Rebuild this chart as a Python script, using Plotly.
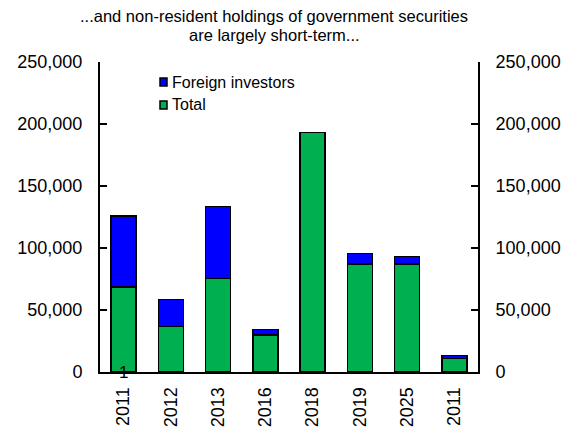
import plotly.graph_objects as go

# Category labels along the x axis (the last year label repeats, so positions are numeric)
years = ["2011", "2012", "2013", "2016", "2018", "2019", "2025", "2011"]
positions = list(range(len(years)))

# Stacked series
total = [68500, 36800, 75500, 29800, 193000, 87000, 87300, 10700]
foreign = [57500, 21700, 57800, 4600, 0, 8700, 5700, 2700]

y_ticks = [0, 50000, 100000, 150000, 200000, 250000]
y_tick_text = ["0", "50,000", "100,000", "150,000", "200,000", "250,000"]

title_lines = ["...and non-resident holdings of government securities", "are largely short-term..."]

GREEN = "#00B050"
BLUE = "#0000FF"
FONT = "Liberation Sans, Arial, sans-serif"

# Plot-area geometry in pixels
L, R, T, B = 100, 478, 62, 372
W, H = 572, 430

fig = go.Figure()
fig.add_trace(go.Bar(x=positions, y=total, name="Total", marker=dict(color=GREEN, line=dict(color="#000", width=1.5))))
fig.add_trace(go.Bar(x=positions, y=foreign, name="Foreign investors", marker=dict(color=BLUE, line=dict(color="#000", width=1.5))))

axis_common = dict(
    range=[0, 250000], tickvals=y_ticks, ticktext=y_tick_text,
    showline=True, linecolor="#000", linewidth=2,
    ticks="inside", ticklen=7, tickwidth=2, tickcolor="#000",
    ticklabelstandoff=12, automargin=False,
    showgrid=False, zeroline=False,
    tickfont=dict(family=FONT, size=18, color="#000"),
)

fig.update_layout(
    width=W, height=H,
    margin=dict(l=L, r=W - R, t=T, b=H - B),
    paper_bgcolor="white", plot_bgcolor="white",
    barmode="stack", bargap=0.47,
    showlegend=False,
    font=dict(family=FONT, color="#000"),
    xaxis=dict(
        range=[-0.5, len(years) - 0.5], tickvals=positions, ticktext=years,
        tickangle=-90, showline=True, linecolor="#000", linewidth=2,
        ticks="", showgrid=False, zeroline=False, ticklabelstandoff=6,
        automargin=False,
        tickfont=dict(family=FONT, size=18, color="#000"),
    ),
    yaxis=dict(side="left", **axis_common),
    yaxis2=dict(side="right", overlaying="y", matches="y", anchor="x", **axis_common),
)

# Invisible trace so the right-hand axis is drawn
fig.add_trace(go.Scatter(x=[positions[0]], y=[0], yaxis="y2", mode="markers",
                         marker=dict(opacity=0), showlegend=False, hoverinfo="skip"))

# Two-line chart title
for i, line in enumerate(title_lines):
    fig.add_annotation(xref="paper", yref="paper", x=(274 - L) / (R - L), y=(B - (16 + 19 * i)) / (B - T),
                       text=line, showarrow=False, xanchor="center", yanchor="middle",
                       font=dict(family=FONT, size=16.5, color="#000"))

# Legend drawn as small boxes with labels
legend_items = [("Foreign investors", BLUE, 82), ("Total", GREEN, 105)]
for label, color, ypx in legend_items:
    fig.add_shape(type="rect", xref="paper", yref="paper",
                  x0=(160 - L) / (R - L), x1=(167 - L) / (R - L),
                  y0=(B - ypx - 4) / (B - T), y1=(B - ypx + 4) / (B - T),
                  fillcolor=color, line=dict(color="#000", width=1.5))
    fig.add_annotation(xref="paper", yref="paper", x=(170 - L) / (R - L), y=(B - ypx) / (B - T),
                       text=label, showarrow=False, xanchor="left", yanchor="middle",
                       font=dict(family=FONT, size=16, color="#000"))

# Marker label at the base of the first bar
fig.add_annotation(x=positions[0], y=0, text="1", showarrow=False, xanchor="center",
                   yanchor="middle", font=dict(family=FONT, size=17, color="#000"))

fig.write_html("out.html")
